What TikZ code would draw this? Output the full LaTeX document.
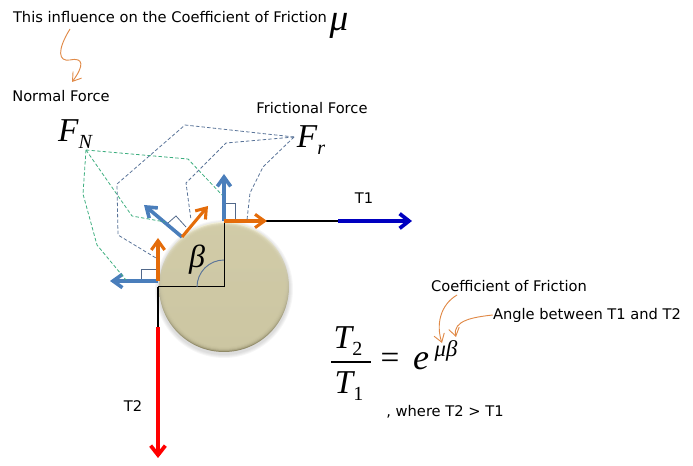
\documentclass[tikz,border=0pt]{standalone}
\usepackage{fontspec}
\setmainfont{DejaVu Sans}
\newfontfamily\symfont{Liberation Serif}
\usetikzlibrary{arrows.meta}
\newcommand{\symsub}[3]{{\itshape #1}\raisebox{-0.22em}{\fontsize{15}{17}\selectfont #3#2}}
\definecolor{wheelfill}{HTML}{D0CAA6}
\definecolor{wheeltop}{HTML}{F2EFD9}
\definecolor{wheelbot}{HTML}{8F8966}
\definecolor{forceblue}{HTML}{4A7EBB}
\definecolor{forceorange}{HTML}{E46C0A}
\definecolor{noteorange}{HTML}{E08A48}
\definecolor{dashgreen}{HTML}{3DAE7F}
\definecolor{dashblue}{HTML}{5A7499}
\definecolor{tensionblue}{HTML}{0000C0}
\begin{document}
\begin{tikzpicture}[x=0.75pt, y=-0.75pt,
    txt/.style = {inner sep=0pt, font=\fontsize{11}{13}\selectfont},
    sym/.style = {inner sep=0pt, font=\symfont\fontsize{25}{28}\selectfont},
    normalblue/.style = {-{Straight Barb[length=7pt,width=10pt]}, forceblue, line width=2.7pt},
    tangentorange/.style = {-{Straight Barb[length=7pt,width=10pt]}, forceorange, line width=2.3pt},
    greendash/.style = {dashed, dash pattern=on 2.6pt off 1.6pt, dashgreen, line width=0.6pt},
    bluedash/.style = {dashed, dash pattern=on 2.6pt off 1.6pt, dashblue, line width=0.6pt},
    mark90/.style = {draw=dashblue!90!black, line width=0.6pt},
    note/.style = {-{Straight Barb[length=6pt,width=8pt]}, noteorange, line width=0.7pt}]
    \useasboundingbox (0,0) rectangle (693,466);

    % wheel
    \foreach \r in {66,67,68,69}
        \fill[black, opacity=0.035] (224,289) circle [radius=\r];
    \shade[top color=wheeltop, bottom color=wheelbot] (224,287) circle [radius=65];
    \foreach \r in {64,63,62,61,60}
        \fill[wheelfill, opacity=0.45] (224,287) circle [radius=\r];

    % points on the wheel
    \coordinate (center) at (224,287);
    \coordinate (top) at (224,221);
    \coordinate (mid) at (182,237);
    \coordinate (left) at (158,281);
    \coordinate (corner) at (158,287);
    \coordinate (joinT1) at (338,221);
    \coordinate (endT1) at (412,221);
    \coordinate (joinT2) at (158,327);
    \coordinate (endT2) at (158,458);

    % texts
    \node[txt] (influence) at (170,17) {This influence on the Coefficient of Friction};
    \node[sym, font=\symfont\fontsize{28}{31}\selectfont\itshape] (mu) at (339,26) {μ};
    \node[txt] (normal) at (61,96) {Normal Force};
    \node[txt] (frictional) at (312,108) {Frictional Force};
    \node[sym] (FN) at (75,134) {\symsub{F}{N}{\itshape}};
    \node[sym] (Fr) at (311,140) {\symsub{F}{r}{\itshape}};
    \node[txt] (T1) at (364,198) {T1};
    \node[txt] (T2) at (133,406) {T2};
    \node[sym, font=\symfont\fontsize{24}{27}\selectfont\itshape] (beta) at (197,260) {β};
    \node[txt] (coef) at (509,286) {Coefficient of Friction};
    \node[txt] (angle) at (587,315) {Angle between T1 and T2};
    \node[txt] (where) at (445,412) {, where T2 > T1};

    % formula
    \node[sym] (num) at (348,341) {\symsub{T}{2}{}};
    \node[sym] (den) at (349,386) {\symsub{T}{1}{}};
    \coordinate (barL) at (331,362);
    \coordinate (barR) at (371,362);
    \draw[line width=0.8pt] (barL) -- (barR);
    \node[sym] (equal) at (390,361) {=};
    \node[sym, font=\symfont\fontsize{27}{30}\selectfont\itshape] (ebase) at (421,361) {e};
    \node[sym, font=\symfont\fontsize{17}{19}\selectfont\itshape] (expo) at (446,351) {μβ};

    % tension lines
    \draw[line width=1.6pt] (top) -- (joinT1);
    \draw[-{Straight Barb[length=7pt,width=11pt]}, tensionblue, line width=2.8pt] (joinT1) -- (endT1);
    \draw[line width=1.3pt] (corner) -- (joinT2);
    \draw[-{Straight Barb[length=7pt,width=11pt]}, red, line width=2.8pt] (joinT2) -- (endT2);
    \draw[line width=0.75pt] (corner) -- (center) -- (top);
    \draw[dashblue, line width=0.7pt] (197,287) arc [start angle=180, end angle=270, radius=27];

    % square marks
    \draw[mark90] (224,203) -- (235,203) -- (235,221);
    \draw[mark90] (168,223) -- (176,216) -- (186,227);
    \draw[mark90] (141,281) -- (141,269) -- (158,269);

    % forces
    \draw[normalblue] (top) -- (224,174);
    \draw[normalblue] (mid) -- (144,205);
    \draw[normalblue] (left) -- (110,281);
    \draw[tangentorange] (top) -- (267,221);
    \draw[tangentorange] (mid) -- (208,206);
    \draw[tangentorange] (left) -- (158,238);

    % dashed leaders
    \coordinate (dashN) at (86,150);
    \coordinate (dashF) at (294,137);
    \draw[greendash] (dashN) -- (188,159) -- (222,195);
    \draw[greendash] (dashN) -- (132,216) -- (165,222);
    \draw[greendash] (dashN) -- (83,194) -- (97,245) -- (126,280);
    \draw[bluedash] (dashF) -- (185,125) -- (117,184) -- (118,235) -- (156,258);
    \draw[bluedash] (dashF) -- (226,143) -- (186,183) -- (191,220);
    \draw[bluedash] (dashF) -- (263,167) -- (250,193) -- (247,220);

    % notes
    \draw[note] (70,29) .. controls (57,50) and (58,62) .. (70,60) .. controls (84,57) and (84,66) .. (72,82);
    \draw[note] (457,295) .. controls (440,305) and (436,325) .. (442,343);
    \draw[note] (angle.west) .. controls (475,317) and (452,320) .. (456,337);
\end{tikzpicture}
\end{document}
